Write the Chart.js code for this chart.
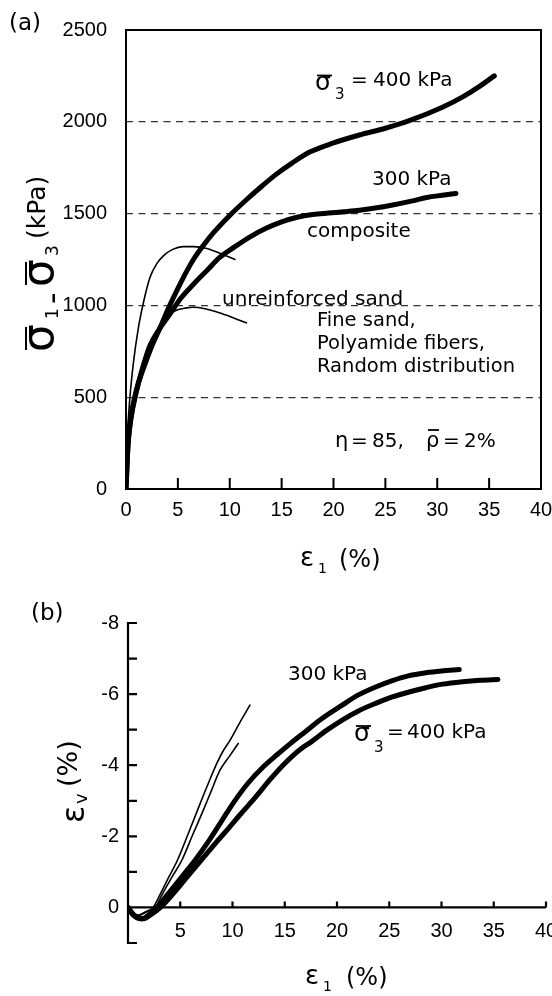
<!DOCTYPE html>
<html>
<head>
<meta charset="utf-8">
<script src="https://cdn.jsdelivr.net/npm/chart.js@4.4.1/dist/chart.umd.min.js"></script>
<style>
html, body { margin: 0; padding: 0; background: #fff; }
#wrap { position: relative; width: 552px; height: 996px; }
canvas { position: absolute; left: 0; }
#chartA { top: 0; }
#chartB { top: 590px; }
</style>
</head>
<body>
<div id="wrap">
<canvas id="chartA" width="552" height="590"></canvas>
<canvas id="chartB" width="552" height="406"></canvas>
</div>
<script>
"use strict";

// panel (a): deviator stress (kPa) vs axial strain (%)
const aX400 = [0, 0.2, 0.5, 1, 1.7, 2.5, 3.3, 4.1, 4.9, 5.7, 6.5, 7.5, 8.5, 10, 11.5, 13, 14.5, 16, 17.7, 20, 22.5, 25, 27.3, 30.5, 32.5, 34, 35.5];
const aY400 = [0, 250, 400, 540, 660, 780, 880, 985, 1080, 1170, 1250, 1330, 1400, 1490, 1570, 1645, 1715, 1775, 1835, 1885, 1928, 1965, 2006, 2079, 2137, 2190, 2250];
const aX300 = [0, 0.2, 0.5, 1, 1.5, 2.3, 3.2, 4.2, 5.3, 6.5, 7.8, 9, 10.5, 12, 13.5, 15, 16.5, 18, 19.5, 21, 22.5, 24, 25.7, 27.5, 29, 30.5, 31.8];
const aY300 = [0, 240, 390, 530, 640, 780, 870, 950, 1040, 1115, 1190, 1260, 1320, 1375, 1420, 1455, 1480, 1495, 1503, 1510, 1518, 1530, 1547, 1568, 1588, 1600, 1610];
const aXu400 = [0, 0.15, 0.35, 0.7, 1.2, 1.7, 2.3, 3, 3.6, 4.5, 5.5, 6.5, 7.8, 9, 10.5];
const aYu400 = [0, 300, 480, 680, 880, 1020, 1150, 1230, 1270, 1305, 1320, 1320, 1310, 1285, 1250];
const aXu300 = [0, 0.2, 0.5, 1, 1.7, 2.5, 3.3, 4.2, 4.9, 5.7, 6.5, 7.6, 8.7, 10, 11.6];
const aYu300 = [0, 240, 390, 540, 680, 800, 880, 950, 975, 985, 990, 982, 966, 940, 905];
const aXTicks = [0, 5, 10, 15, 20, 25, 30, 35, 40];
const aYTicks = [0, 500, 1000, 1500, 2000, 2500];

// panel (b): volumetric strain (%) vs axial strain (%)
const bX300 = [0, 0.5, 1.3, 2.1, 2.8, 3.6, 4.5, 5.4, 6.4, 7.8, 9, 10.1, 11.5, 13, 14.2, 15.5, 17, 18.5, 20.5, 22, 23.7, 25.3, 26.9, 28.5, 30, 31.7];
const bY300 = [0, 0.22, 0.32, 0.18, 0, -0.3, -0.62, -0.95, -1.32, -1.9, -2.45, -2.95, -3.5, -3.97, -4.28, -4.6, -4.95, -5.3, -5.69, -5.97, -6.2, -6.38, -6.52, -6.6, -6.65, -6.69];
const bX400 = [0, 0.6, 1.4, 2.3, 3.1, 4, 5, 6, 7.2, 8.5, 9.6, 10.7, 12.2, 13.6, 15, 16.5, 17.5, 19, 20.5, 22, 23.7, 25.3, 26.9, 28.5, 30.1, 32, 33.7, 35.4];
const bY400 = [0, 0.22, 0.32, 0.18, 0, -0.28, -0.62, -0.98, -1.4, -1.85, -2.22, -2.6, -3.1, -3.6, -4.05, -4.45, -4.65, -4.98, -5.27, -5.52, -5.74, -5.92, -6.06, -6.18, -6.28, -6.35, -6.39, -6.41];
const bXu1 = [0, 0.4, 1, 1.7, 2.4, 3.1, 3.9, 4.72, 5.8, 6.9, 7.7, 8.5, 9.1, 9.76, 10.7, 11.67];
const bYu1 = [0, 0.15, 0.22, 0.12, 0, -0.38, -0.85, -1.32, -2.1, -2.92, -3.5, -4.05, -4.4, -4.7, -5.2, -5.69];
const bXu2 = [0, 0.4, 1, 1.8, 2.6, 3.3, 4.2, 5.14, 6.2, 7.2, 8, 8.8, 9.7, 10.55];
const bYu2 = [0, 0.15, 0.22, 0.12, 0, -0.38, -0.85, -1.32, -2.05, -2.73, -3.3, -3.86, -4.25, -4.61];
const bXTicks = [0, 5, 10, 15, 20, 25, 30, 35, 40];
const bYTicks = [-8, -7, -6, -5, -4, -3, -2, -1, 0, 1];

const TICK_FONT = { family: '"Liberation Sans", Arial, sans-serif', size: 20 };
const ANNOT = '"DejaVu Sans", sans-serif';

function pts(xs, ys) {
    return xs.map((x, i) => ({ x: x, y: ys[i] }));
}

function curve(label, xs, ys, width) {
    return {
        label: label,
        data: pts(xs, ys),
        showLine: true,
        borderColor: '#000',
        borderWidth: width,
        pointRadius: 0,
        cubicInterpolationMode: 'monotone',
        borderCapStyle: 'round',
        borderJoinStyle: 'round',
        fill: false
    };
}

function put(ctx, s, x, y, size) {
    ctx.font = size + 'px ' + ANNOT;
    ctx.fillText(s, x, y);
}

function bar(ctx, x1, x2, y) {
    ctx.beginPath();
    ctx.moveTo(x1, y);
    ctx.lineTo(x2, y);
    ctx.stroke();
}

const frameA = {
    id: 'frameA',
    afterDraw(chart) {
        const ctx = chart.ctx;
        const a = chart.chartArea;
        const x = chart.scales.x;
        ctx.save();
        ctx.strokeStyle = '#000';
        ctx.fillStyle = '#000';
        ctx.lineWidth = 2;
        ctx.strokeRect(a.left, a.top, a.right - a.left, a.bottom - a.top);
        ctx.beginPath();
        aXTicks.forEach(v => {
            if (v > 0 && v < 40) {
                const px = x.getPixelForValue(v);
                ctx.moveTo(px, a.bottom);
                ctx.lineTo(px, a.bottom - 11);
            }
        });
        ctx.stroke();

        ctx.textAlign = 'left';
        ctx.textBaseline = 'alphabetic';
        ctx.lineWidth = 1.8;
        put(ctx, '(a)', 9, 30, 23);
        put(ctx, 'σ', 315, 90, 25);
        bar(ctx, 317, 332, 75.5);
        put(ctx, '3', 335, 99, 15);
        put(ctx, '=', 351, 86, 20);
        put(ctx, '400 kPa', 373, 86, 20);
        put(ctx, '300 kPa', 372, 185, 20);
        put(ctx, 'composite', 307, 237, 20);
        put(ctx, 'unreinforced sand', 222, 305, 20);
        put(ctx, 'Fine sand,', 317, 326, 19.5);
        put(ctx, 'Polyamide fibers,', 317, 349, 19.5);
        put(ctx, 'Random distribution', 317, 372, 19.5);
        put(ctx, 'η', 335, 447, 21);
        put(ctx, '=', 351, 447, 20);
        put(ctx, '85,', 372, 447, 20);
        put(ctx, 'ρ', 426, 447, 21);
        bar(ctx, 428, 439, 430);
        put(ctx, '=', 443, 447, 20);
        put(ctx, '2%', 464, 447, 20);

        put(ctx, 'ε', 300, 566, 26);
        put(ctx, '1', 318, 573, 14);
        put(ctx, '(%)', 339, 567, 24);

        ctx.save();
        ctx.translate(53, 352);
        ctx.rotate(-Math.PI / 2);
        ctx.lineWidth = 2;
        put(ctx, 'σ', 0, 0, 44);
        bar(ctx, 2, 25, -27);
        put(ctx, '1', 33, 5, 17);
        put(ctx, '-', 48, 10, 32);
        put(ctx, 'σ', 65, 0, 44);
        bar(ctx, 67, 90, -27);
        put(ctx, '3', 96, 5, 17);
        put(ctx, '(kPa)', 113, -8, 25);
        ctx.restore();
        ctx.restore();
    }
};

const frameB = {
    id: 'frameB',
    afterDraw(chart) {
        const ctx = chart.ctx;
        const a = chart.chartArea;
        const x = chart.scales.x;
        const y = chart.scales.y;
        const y0 = y.getPixelForValue(0);
        ctx.save();
        ctx.strokeStyle = '#000';
        ctx.fillStyle = '#000';
        ctx.lineWidth = 2.2;
        ctx.beginPath();
        ctx.moveTo(a.left, a.top - 1);
        ctx.lineTo(a.left, a.bottom + 1);
        ctx.moveTo(a.left, y0);
        ctx.lineTo(a.right, y0);
        bYTicks.forEach(v => {
            const py = y.getPixelForValue(v);
            ctx.moveTo(a.left, py);
            ctx.lineTo(a.left + 9, py);
        });
        bXTicks.forEach(v => {
            if (v > 0) {
                const px = x.getPixelForValue(v);
                ctx.moveTo(px, y0);
                ctx.lineTo(px, y0 - 6);
            }
        });
        ctx.stroke();

        ctx.textAlign = 'left';
        ctx.textBaseline = 'alphabetic';
        ctx.lineWidth = 1.8;
        put(ctx, '(b)', 31, 30, 23);
        put(ctx, '300 kPa', 288, 90, 20);
        put(ctx, 'σ', 354, 151, 25);
        bar(ctx, 356, 371, 136);
        put(ctx, '3', 374, 162, 15);
        put(ctx, '=', 387, 148, 20);
        put(ctx, '400 kPa', 407, 148, 20);

        put(ctx, 'ε', 305, 394, 26);
        put(ctx, '1', 323, 401, 14);
        put(ctx, '(%)', 346, 395, 24);

        ctx.save();
        ctx.translate(84, 233);
        ctx.rotate(-Math.PI / 2);
        put(ctx, 'ε', 0, 0, 32);
        put(ctx, 'v', 19, 3, 18);
        put(ctx, '(%)', 36, -7, 27);
        ctx.restore();
        ctx.restore();
    }
};

var ctxA = document.getElementById('chartA').getContext('2d');
var chartA = new Chart(ctxA, {
    type: 'scatter',
    data: {
        datasets: [
            curve('unreinforced 400 kPa', aXu400, aYu400, 1.6),
            curve('unreinforced 300 kPa', aXu300, aYu300, 1.6),
            curve('composite 400 kPa', aX400, aY400, 5),
            curve('composite 300 kPa', aX300, aY300, 5)
        ]
    },
    options: {
        responsive: false,
        animation: false,
        devicePixelRatio: 1,
        layout: { padding: { top: 30, right: 11, left: 0, bottom: 0 } },
        plugins: { legend: { display: false }, tooltip: { enabled: false } },
        scales: {
            x: {
                type: 'linear',
                position: 'bottom',
                min: 0,
                max: 40,
                afterBuildTicks: s => { s.ticks = aXTicks.map(v => ({ value: v })); },
                ticks: { font: TICK_FONT, color: '#000', padding: 9, maxRotation: 0, autoSkip: false, callback: v => String(v) },
                grid: { display: false, drawTicks: false },
                border: { display: false },
                afterFit: s => { s.height = 101; s.paddingLeft = 0; s.paddingRight = 0; }
            },
            y: {
                type: 'linear',
                min: 0,
                max: 2500,
                afterBuildTicks: s => { s.ticks = aYTicks.map(v => ({ value: v })); },
                ticks: { font: TICK_FONT, color: '#000', padding: 19, autoSkip: false, callback: v => String(v) },
                grid: {
                    drawTicks: false,
                    lineWidth: 1.2,
                    color: c => (c.tick && c.tick.value > 0 && c.tick.value < 2500) ? '#333' : 'rgba(0,0,0,0)'
                },
                border: { display: false, dash: [7, 5.5] },
                afterFit: s => { s.width = 126; s.paddingTop = 0; s.paddingBottom = 0; }
            }
        }
    },
    plugins: [frameA]
});

var ctxB = document.getElementById('chartB').getContext('2d');
var chartB = new Chart(ctxB, {
    type: 'scatter',
    data: {
        datasets: [
            curve('unreinforced a', bXu1, bYu1, 1.6),
            curve('unreinforced b', bXu2, bYu2, 1.6),
            curve('composite 300 kPa', bX300, bY300, 5),
            curve('composite 400 kPa', bX400, bY400, 5)
        ]
    },
    options: {
        responsive: false,
        animation: false,
        devicePixelRatio: 1,
        layout: { padding: { top: 33, right: 6, left: 0, bottom: 53 } },
        plugins: { legend: { display: false }, tooltip: { enabled: false } },
        scales: {
            x: {
                type: 'linear',
                position: { y: 0 },
                min: 0,
                max: 40,
                afterBuildTicks: s => { s.ticks = bXTicks.map(v => ({ value: v })); },
                ticks: {
                    font: TICK_FONT, color: '#000', padding: 12, maxRotation: 0, autoSkip: false,
                    callback: v => (v === 0 ? '' : String(v))
                },
                grid: { display: false, drawTicks: false },
                border: { display: false },
                afterFit: s => { s.paddingLeft = 0; s.paddingRight = 0; }
            },
            y: {
                type: 'linear',
                min: -8,
                max: 1,
                reverse: true,
                afterBuildTicks: s => { s.ticks = bYTicks.map(v => ({ value: v })); },
                ticks: {
                    font: TICK_FONT, color: '#000', padding: 9, autoSkip: false,
                    callback: v => (v <= 0 && v % 2 === 0 ? String(v) : '')
                },
                grid: { display: false, drawTicks: false },
                border: { display: false },
                afterFit: s => { s.width = 128; s.paddingTop = 0; s.paddingBottom = 0; }
            }
        }
    },
    plugins: [frameB]
});
</script>
</body>
</html>
